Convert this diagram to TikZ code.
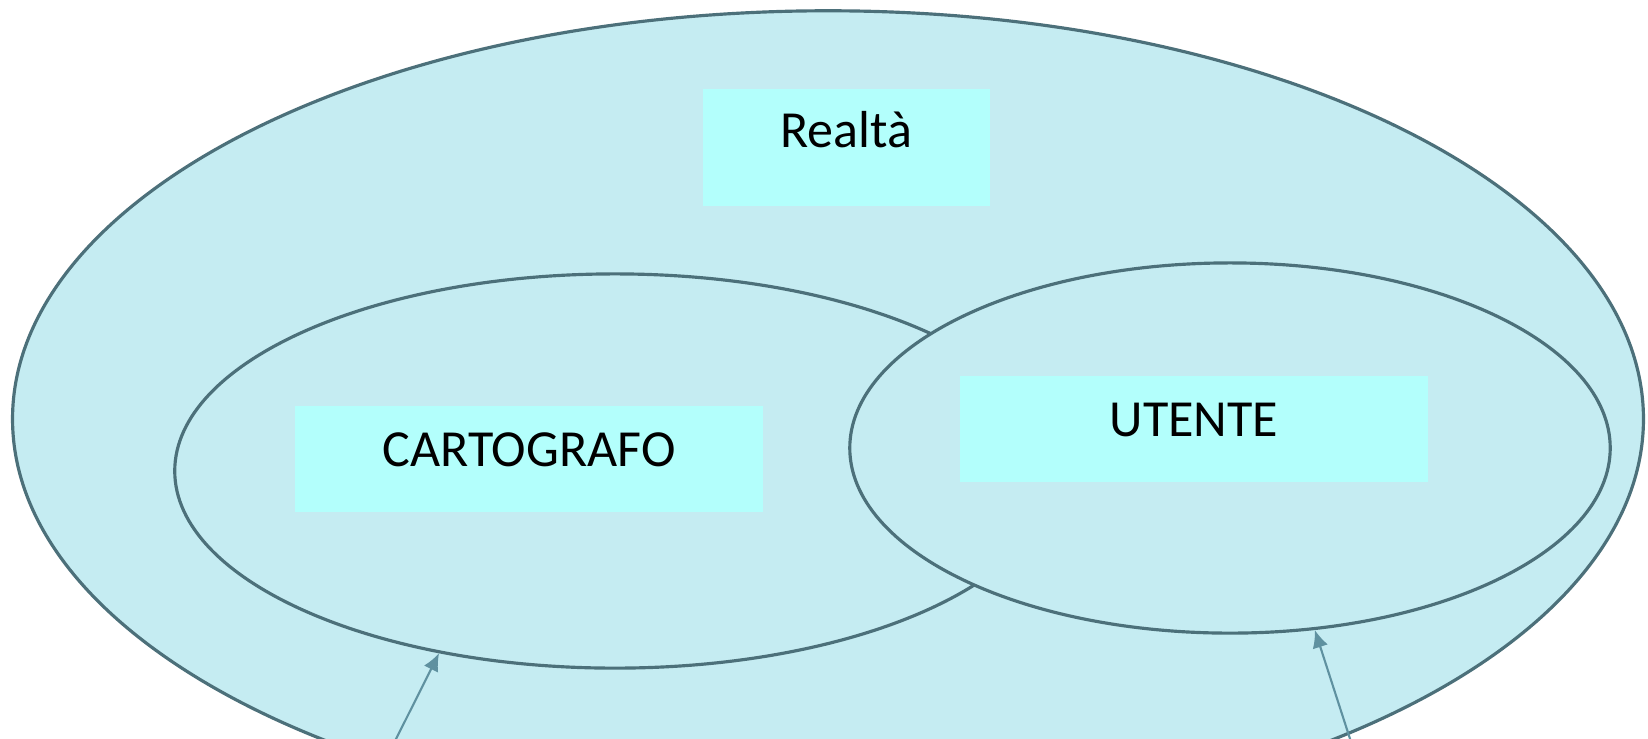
\documentclass[tikz,border=0pt]{standalone}
\usepackage{fontspec}
\setmainfont{Carlito}
\usepackage{tikz}
\usetikzlibrary{arrows.meta, shapes.geometric, positioning}

\definecolor{setfill}{RGB}{197,236,242}
\definecolor{setline}{RGB}{76,112,122}
\definecolor{boxfill}{RGB}{179,255,252}
\definecolor{arrline}{RGB}{95,145,160}

\tikzset{
  setshape/.style={ellipse, draw=setline, fill=setfill, line width=0.9pt, inner sep=0pt},
  labelbox/.style={rectangle, fill=boxfill, inner sep=0pt, font=\fontsize{14.8}{18}\selectfont},
  pointer/.style={->, >={Latex[length=5pt, width=4.5pt]}, draw=arrline, line width=0.6pt},
}

\begin{document}
\begin{tikzpicture}[x=0.01cm, y=-0.01cm]
\useasboundingbox (0,0) rectangle (1648,738);
\clip (0,0) rectangle (1648,738);
\fill[white] (0,0) rectangle (1648,738);

% Outer set: reality
\node[setshape, minimum width=16.3cm, minimum height=8.16cm] (realta) at (828,419) {};

% Inner sets, the right one drawn last so it covers the left one
\node[setshape, minimum width=8.8cm, minimum height=3.94cm] (cartografo) at (615,471) {};
\node[setshape, minimum width=7.6cm, minimum height=3.7cm] (utente) at (1230,448) {};

% Labels
\node[labelbox, minimum width=2.87cm, minimum height=1.17cm, text height=0.3cm, text depth=0.3cm] (realtalab) at (846.5,147.5) {Realtà};
\node[labelbox, minimum width=4.68cm, minimum height=1.06cm, text height=0.3cm, text depth=0.16cm] (cartolab) at (529,459) {CARTOGRAFO};
\node[labelbox, minimum width=4.68cm, minimum height=1.06cm, text height=0.3cm, text depth=0.16cm] (utentelab) at (1194,429) {UTENTE};

% Arrows coming in from below
\coordinate (cfoot) at (393,745);
\coordinate (ufoot) at (1352,745);
\draw[pointer] (cfoot) -- (cartografo.-134.7);
\draw[pointer] (ufoot) -- (utente.-65.5);

\end{tikzpicture}
\end{document}
